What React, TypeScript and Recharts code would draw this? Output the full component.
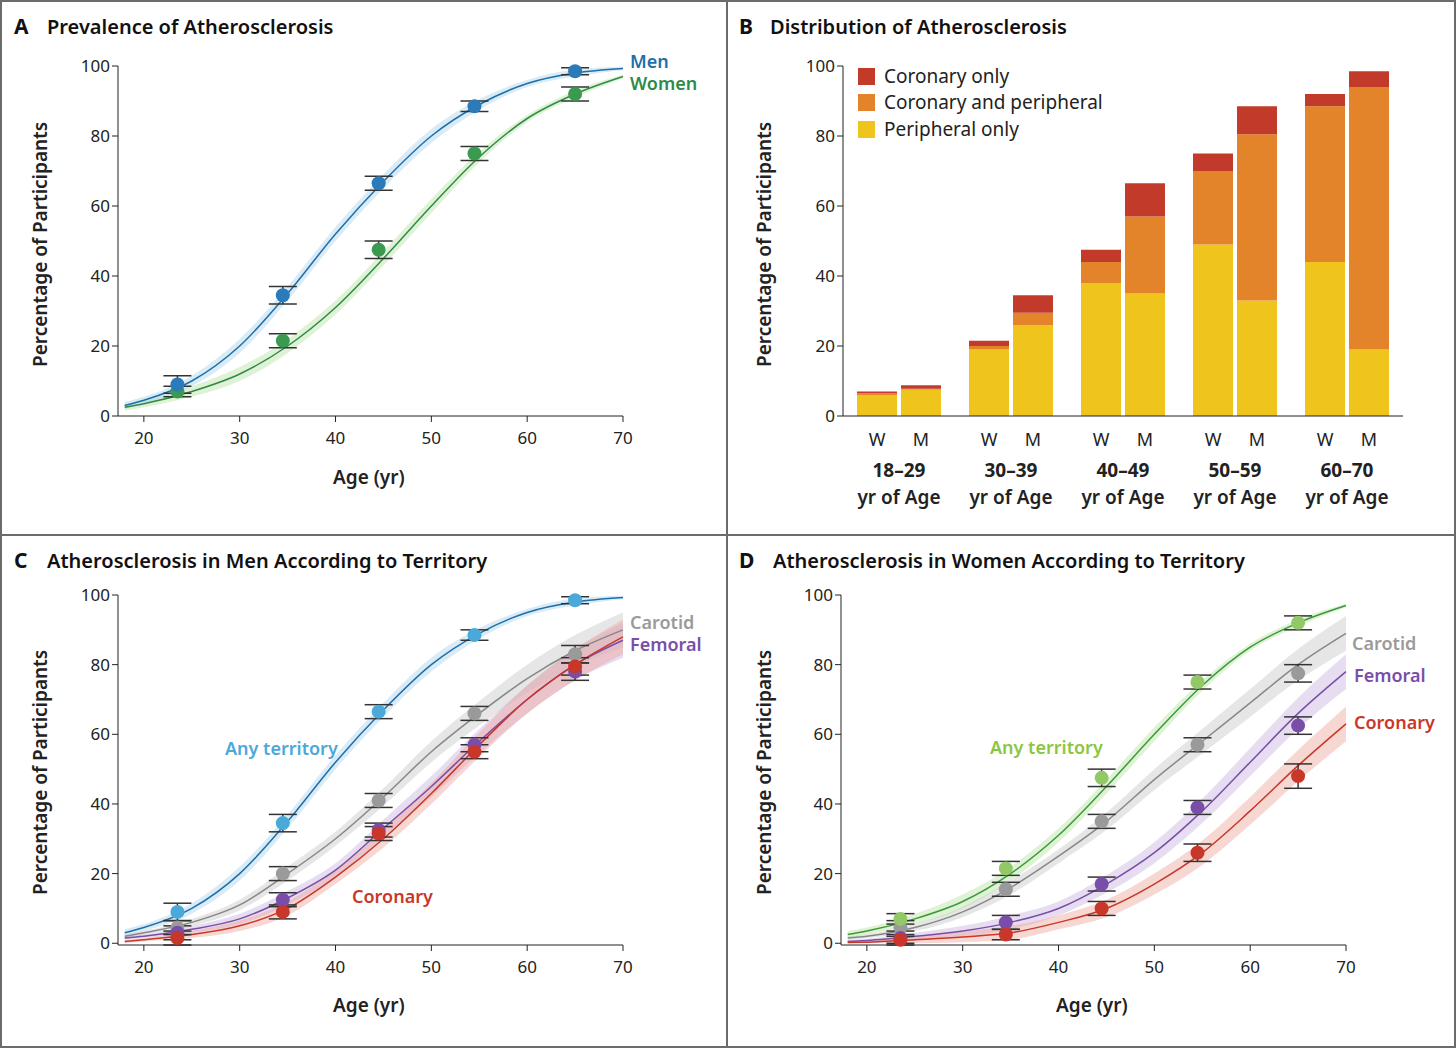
import React from 'react';
import { ComposedChart, Line, Area, Scatter, ErrorBar, XAxis, YAxis, BarChart, Bar } from 'recharts';

const AGES = [18, 20, 25, 30, 35, 40, 45, 50, 55, 60, 65, 70];
const PT_AGES = [23.5, 34.5, 44.5, 54.5, 65];

const menCurve = [3, 4.5, 10, 20, 35, 52, 67, 80, 89, 95, 98, 99.3];
const womenCurve = [2.5, 3.5, 7, 12, 20, 31, 45, 60, 74, 85, 92, 97];
const menCarotid = [2, 3, 6, 11, 20, 30, 42, 55, 66, 76, 84, 90];
const menFemoral = [1.5, 2, 4, 7, 13, 21, 33, 45, 58, 70, 80, 87];
const menCoronary = [0.5, 1, 2.5, 5, 10, 19, 30, 43, 57, 70, 80, 88];
const womenCarotid = [1.5, 2, 4.5, 9, 16, 25, 35, 47, 58, 69, 80, 89];
const womenFemoral = [0.5, 0.8, 2, 3.5, 6, 10, 17, 26, 38, 52, 66, 78];
const womenCoronary = [0.2, 0.3, 1, 1.8, 3, 6, 10, 17, 26, 38, 51, 63];

const bandSmall = [1, 1, 1.5, 2, 2, 2, 2, 2, 1.5, 1, 1, 0.5];
const bandWide = [0.5, 0.5, 1, 1.5, 2, 2, 2.5, 3, 3.5, 4, 4.5, 5];

const menPts = [9, 34.5, 66.5, 88.5, 98.5];
const menErr = [2.5, 2.5, 2, 1.5, 1];
const womenPts = [7, 21.5, 47.5, 75, 92];
const womenErr = [1.5, 2, 2.5, 2, 2];
const menCarPts = [4.5, 20, 41, 66, 83];
const menFemPts = [3, 12.5, 32.5, 57, 78];
const menCorPts = [1.5, 9, 31.5, 55, 79.5];
const womCarPts = [4.5, 15.5, 35, 57, 77.5];
const womFemPts = [1.5, 6, 17, 39, 62.5];
const womCorPts = [1, 2.5, 10, 26, 48];
const errStd = [2, 2, 2, 2, 2.5];
const errHigh = [1, 1.5, 2, 2.5, 3.5];

const GROUPS = ['18\u201329', '30\u201339', '40\u201349', '50\u201359', '60\u201370'];
const wPeripheral = [6, 19, 38, 49, 44];
const wBoth = [0.5, 1, 6, 21, 44.5];
const wCoronary = [0.5, 1.5, 3.5, 5, 3.5];
const mPeripheral = [7.5, 26, 35, 33, 19];
const mBoth = [0.3, 3.5, 22, 47.5, 75];
const mCoronary = [1, 5, 9.5, 8, 4.5];

const RED = '#c23b2a';
const ORANGE = '#e4842a';
const YELLOW = '#efc41c';
const FONT = '"Noto Sans", sans-serif';

const curve = (vals: number[], band: number[]) =>
  AGES.map((a, i) => ({ age: a, v: vals[i], band: [Math.max(0, vals[i] - band[i]), Math.min(100, vals[i] + band[i])] }));
const pts = (vals: number[], err: number[]) => PT_AGES.map((a, i) => ({ age: a, v: vals[i], err: err[i] }));

type Series = { curve: any[]; pts: any[]; line: string; dot: string; band: string };

function CurvePanel({ series }: { series: Series[] }) {
  return (
    <ComposedChart width={727} height={535} margin={{ top: 66, right: 104, bottom: 89, left: 58 }}>
      <XAxis dataKey="age" type="number" domain={[17.3, 70]} ticks={[20, 30, 40, 50, 60, 70]} allowDuplicatedCategory={false}
        tick={{ fontSize: 17, fill: '#222', fontFamily: FONT }} stroke="#222" tickSize={6} tickMargin={10} height={30} />
      <YAxis type="number" domain={[0, 100]} ticks={[0, 20, 40, 60, 80, 100]} width={60}
        tick={{ fontSize: 17, fill: '#222', fontFamily: FONT }} stroke="#222" tickSize={6} />
      {series.map((s, i) => (
        <Area key={'a' + i} data={s.curve} dataKey="band" type="monotone" fill={s.band} fillOpacity={0.45} stroke="none" isAnimationActive={false} />
      ))}
      {series.map((s, i) => (
        <Line key={'l' + i} data={s.curve} dataKey="v" type="monotone" stroke={s.line} strokeWidth={1.5} dot={false} isAnimationActive={false} />
      ))}
      {series.map((s, i) => (
        <Scatter key={'s' + i} data={s.pts} dataKey="v" fill={s.dot} isAnimationActive={false}
          shape={(p: any) => <circle cx={p.cx} cy={p.cy} r={7} fill={s.dot} />}>
          <ErrorBar dataKey="err" width={14} stroke="#333" strokeWidth={1.5} direction="y" />
        </Scatter>
      ))}
    </ComposedChart>
  );
}

const barData = GROUPS.map((g, i) => ({
  grp: g, wp: wPeripheral[i], wb: wBoth[i], wc: wCoronary[i], mp: mPeripheral[i], mb: mBoth[i], mc: mCoronary[i],
}));

const BarTick = (p: any) => {
  const { x, y, payload } = p;
  const t = { fontFamily: FONT, fill: '#222', textAnchor: 'middle' as const };
  return (
    <g>
      <text x={x - 22} y={y + 22} fontSize={18} {...t}>W</text>
      <text x={x + 22} y={y + 22} fontSize={18} {...t}>M</text>
      <text x={x} y={y + 53} fontSize={19} fontWeight={700} {...t}>{payload.value}</text>
      <text x={x} y={y + 80} fontSize={19} fontWeight={600} {...t}>yr of Age</text>
    </g>
  );
};

const txt = (left: number, top: number, color: string, size = 19, weight = 600): React.CSSProperties => ({
  position: 'absolute', left, top, color, fontSize: size, fontWeight: weight, fontFamily: FONT, whiteSpace: 'nowrap', lineHeight: 1,
});

function Label({ s, x, y, c, size = 18, w = 600 }: { s: string; x: number; y: number; c: string; size?: number; w?: number }) {
  return <div style={txt(x, y, c, size, w)}>{s}</div>;
}

function YTitle({ x, y }: { x: number; y: number }) {
  return (
    <div style={{ position: 'absolute', left: x, top: y, transform: 'rotate(-90deg)', transformOrigin: 'left top', fontFamily: FONT, fontSize: 19, fontWeight: 600, color: '#222', whiteSpace: 'nowrap' }}>
      Percentage of Participants
    </div>
  );
}

export default function App() {
  const BLUE = '#1f6fa8', BLUED = '#2b7bbb', GREEN = '#2e8b47', GREEND = '#3a9a50', LGREEN = '#b9e2a2';
  const LBLUE = '#4ba9d9', GRAY = '#9a9a9a', PURPLE = '#7a4ea8', CRED = '#c8372a', LG = '#8cc63f';
  const panelA: Series[] = [
    { curve: curve(womenCurve, bandSmall), pts: pts(womenPts, womenErr), line: GREEN, dot: GREEND, band: LGREEN },
    { curve: curve(menCurve, bandSmall), pts: pts(menPts, menErr), line: BLUE, dot: BLUED, band: '#a9d2ea' },
  ];
  const panelC: Series[] = [
    { curve: curve(menCarotid, bandWide), pts: pts(menCarPts, errStd), line: '#888', dot: GRAY, band: '#c8c8c8' },
    { curve: curve(menFemoral, bandWide), pts: pts(menFemPts, errStd), line: PURPLE, dot: PURPLE, band: '#c9b3e0' },
    { curve: curve(menCoronary, bandWide), pts: pts(menCorPts, errStd), line: CRED, dot: CRED, band: '#eea79c' },
    { curve: curve(menCurve, bandSmall), pts: pts(menPts, menErr), line: BLUE, dot: LBLUE, band: '#a9d2ea' },
  ];
  const panelD: Series[] = [
    { curve: curve(womenCarotid, bandWide), pts: pts(womCarPts, errStd), line: '#888', dot: GRAY, band: '#c8c8c8' },
    { curve: curve(womenFemoral, bandWide), pts: pts(womFemPts, errStd), line: PURPLE, dot: PURPLE, band: '#c9b3e0' },
    { curve: curve(womenCoronary, bandWide), pts: pts(womCorPts, errHigh), line: CRED, dot: CRED, band: '#eea79c' },
    { curve: curve(womenCurve, bandSmall), pts: pts(womenPts, womenErr), line: '#3a9a3a', dot: '#92c865', band: LGREEN },
  ];
  const border = '2px solid #6b6b6b';
  return (
    <div style={{ position: 'absolute', left: 0, top: 0, width: 1456, height: 1048, background: '#fff', overflow: 'hidden' }}>
      <div style={{ position: 'absolute', left: 0, top: 0, width: 1452, height: 1044, border }} />
      <div style={{ position: 'absolute', left: 726, top: 0, width: 2, height: 1048, background: '#6b6b6b' }} />
      <div style={{ position: 'absolute', left: 0, top: 534, width: 1456, height: 2, background: '#6b6b6b' }} />

      <div style={{ position: 'absolute', left: 0, top: 0 }}><CurvePanel series={panelA} /></div>
      <div style={{ position: 'absolute', left: 0, top: 529 }}><CurvePanel series={panelC} /></div>
      <div style={{ position: 'absolute', left: 723, top: 529 }}><CurvePanel series={panelD} /></div>

      <div style={{ position: 'absolute', left: 727, top: 0 }}>
        <BarChart width={729} height={535} data={barData} barSize={40} barGap={4} barCategoryGap={14}
          margin={{ top: 66, right: 53, bottom: 19, left: 56 }}>
          <XAxis dataKey="grp" tickLine={false} stroke="#222" height={100} tick={<BarTick />} interval={0} />
          <YAxis type="number" domain={[0, 100]} ticks={[0, 20, 40, 60, 80, 100]} width={60}
            tick={{ fontSize: 17, fill: '#222', fontFamily: FONT }} stroke="#222" tickSize={6} />
          <Bar dataKey="wp" stackId="w" fill={YELLOW} isAnimationActive={false} />
          <Bar dataKey="wb" stackId="w" fill={ORANGE} isAnimationActive={false} />
          <Bar dataKey="wc" stackId="w" fill={RED} isAnimationActive={false} />
          <Bar dataKey="mp" stackId="m" fill={YELLOW} isAnimationActive={false} />
          <Bar dataKey="mb" stackId="m" fill={ORANGE} isAnimationActive={false} />
          <Bar dataKey="mc" stackId="m" fill={RED} isAnimationActive={false} />
        </BarChart>
      </div>

      {[['Coronary only', RED, 68], ['Coronary and peripheral', ORANGE, 94], ['Peripheral only', YELLOW, 121]].map(([s, c, y]) => (
        <div key={s as string}>
          <div style={{ position: 'absolute', left: 858, top: (y as number), width: 17, height: 17, background: c as string }} />
          <Label s={s as string} x={884} y={(y as number) - 1} c="#222" size={19} w={400} />
        </div>
      ))}

      <Label s="A" x={14} y={16} c="#111" size={21} w={700} />
      <Label s="Prevalence of Atherosclerosis" x={47} y={17} c="#111" size={20} />
      <Label s="B" x={739} y={16} c="#111" size={21} w={700} />
      <Label s="Distribution of Atherosclerosis" x={770} y={17} c="#111" size={20} />
      <Label s="C" x={14} y={550} c="#111" size={21} w={700} />
      <Label s="Atherosclerosis in Men According to Territory" x={47} y={551} c="#111" size={20} />
      <Label s="D" x={739} y={550} c="#111" size={21} w={700} />
      <Label s="Atherosclerosis in Women According to Territory" x={773} y={551} c="#111" size={20} />

      <YTitle x={27} y={367} />
      <YTitle x={751} y={367} />
      <YTitle x={27} y={895} />
      <YTitle x={751} y={895} />
      <Label s="Age (yr)" x={333} y={468} c="#222" size={19} />
      <Label s="Age (yr)" x={333} y={996} c="#222" size={19} />
      <Label s="Age (yr)" x={1056} y={996} c="#222" size={19} />

      <Label s="Men" x={630} y={52} c={BLUE} />
      <Label s="Women" x={630} y={74} c={GREEN} />
      <Label s="Any territory" x={225} y={739} c={LBLUE} />
      <Label s="Carotid" x={630} y={613} c={GRAY} />
      <Label s="Femoral" x={630} y={635} c={PURPLE} />
      <Label s="Coronary" x={352} y={887} c={CRED} />
      <Label s="Any territory" x={990} y={738} c={LG} />
      <Label s="Carotid" x={1352} y={634} c={GRAY} />
      <Label s="Femoral" x={1354} y={666} c={PURPLE} />
      <Label s="Coronary" x={1354} y={713} c={CRED} />
    </div>
  );
}
